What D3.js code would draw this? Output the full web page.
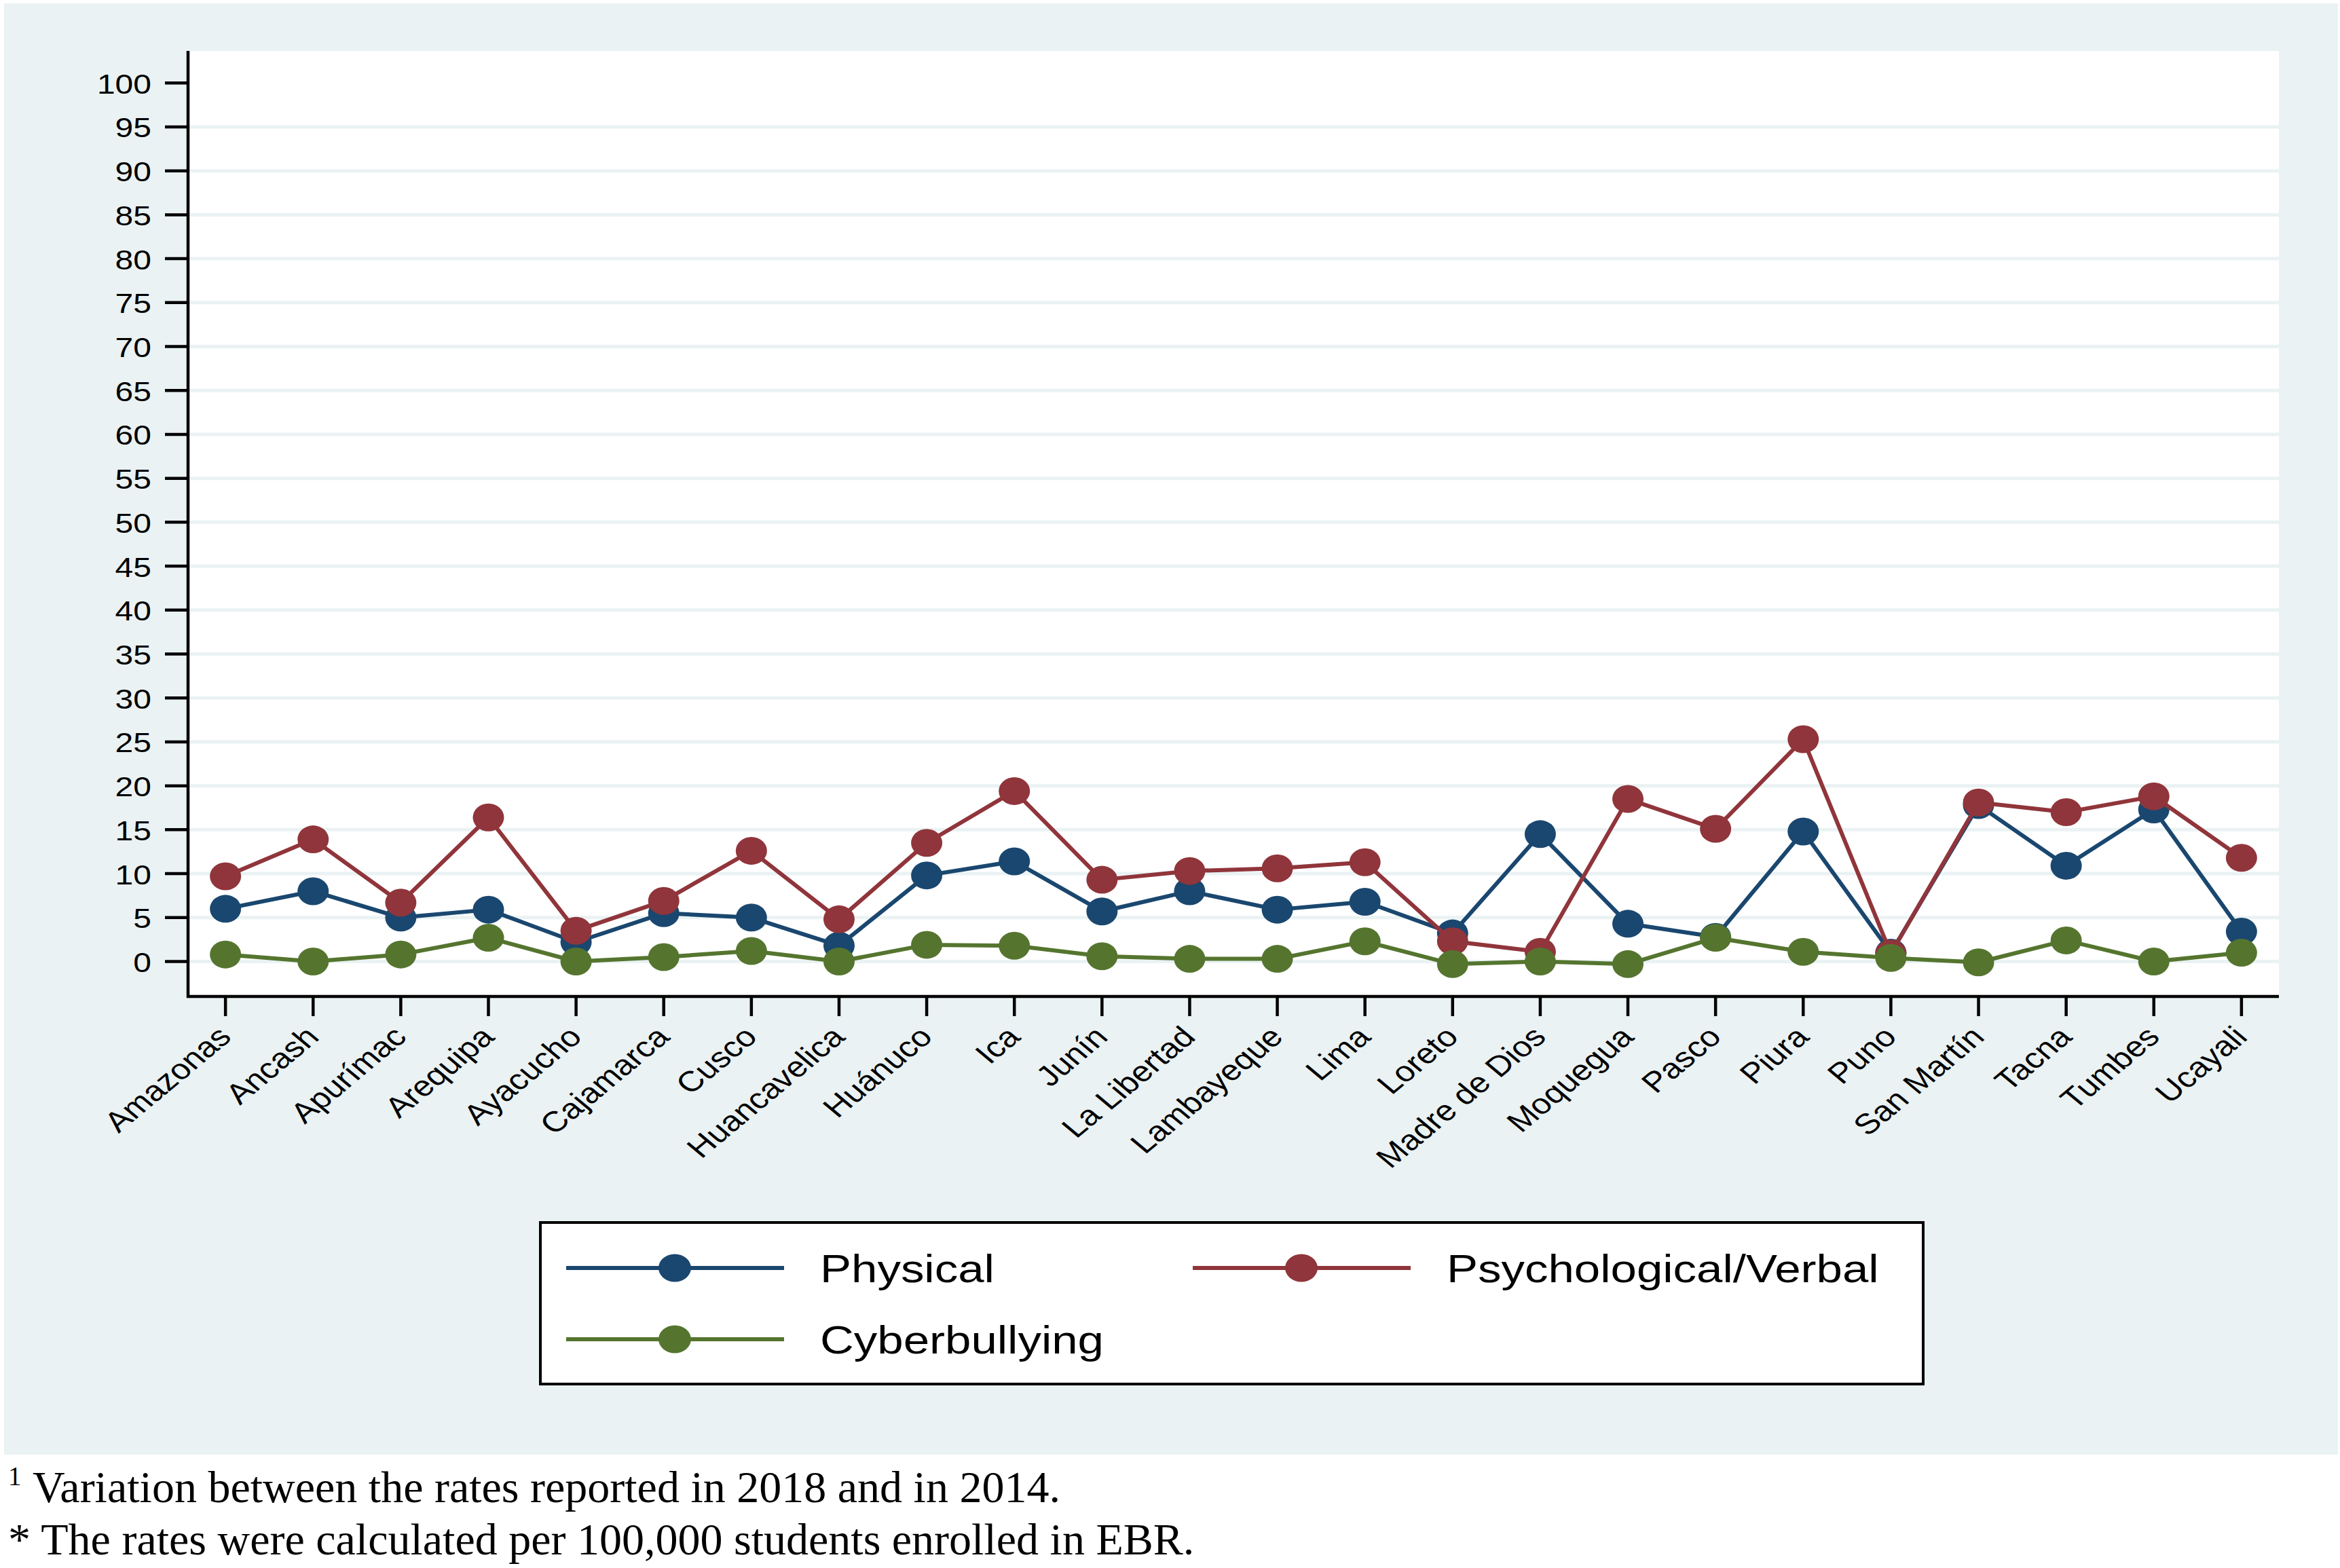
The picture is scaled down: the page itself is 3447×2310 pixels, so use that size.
<!DOCTYPE html>
<html>
<head>
<meta charset="utf-8">
<script src="https://cdn.jsdelivr.net/npm/d3@7"></script>
<style>
  body { margin: 0; background: #fff; }
</style>
</head>
<body>
<svg id="chart"></svg>
<script>
// data (rate variation 2018 vs 2014, per 100,000 students)
const regions = ['Amazonas', 'Ancash', 'Apurímac', 'Arequipa', 'Ayacucho', 'Cajamarca', 'Cusco',
  'Huancavelica', 'Huánuco', 'Ica', 'Junín', 'La Libertad', 'Lambayeque', 'Lima', 'Loreto',
  'Madre de Dios', 'Moquegua', 'Pasco', 'Piura', 'Puno', 'San Martín', 'Tacna', 'Tumbes', 'Ucayali'];
const physical = [6.0, 8.0, 5.0, 5.9, 2.2, 5.5, 5.0, 1.8, 9.8, 11.4, 5.7, 8.0, 5.9, 6.8, 3.2,
  14.5, 4.3, 2.8, 14.8, 1.0, 17.8, 10.9, 17.3, 3.4];
const psychological = [9.7, 13.9, 6.7, 16.4, 3.5, 6.9, 12.6, 4.8, 13.5, 19.4, 9.3, 10.3, 10.6, 11.3, 2.3,
  1.1, 18.5, 15.1, 25.3, 0.9, 18.1, 17.0, 18.8, 11.8];
const cyberbullying = [0.8, 0.0, 0.8, 2.7, 0.0, 0.5, 1.2, 0.0, 1.9, 1.8, 0.6, 0.3, 0.3, 2.3, -0.3,
  0.0, -0.3, 2.7, 1.1, 0.4, -0.1, 2.4, 0.0, 1.0];
const seriesNames = ['Physical', 'Psychological/Verbal', 'Cyberbullying'];
const seriesColors = ['#1A476F', '#90353B', '#55752F'];
const yTicks = d3.range(0, 101, 5);
const footnotes = ['Variation between the rates reported in 2018 and in 2014.',
  '* The rates were calculated per 100,000 students enrolled in EBR.'];

const width = 3447;
const height = 2310;
const stretch = 1.2; // the original figure is widened horizontally
const plot = { left: 277, top: 75, right: 3357, bottom: 1468 };
const bg = '#EAF2F3';
const sans = '"Liberation Sans", Arial, Helvetica, sans-serif';

const series = seriesNames.map((name, i) => ({
  name,
  color: seriesColors[i],
  values: [physical, psychological, cyberbullying][i]
}));

const svg = d3.select('#chart').attr('width', width).attr('height', height);

svg.append('rect').attr('x', 6).attr('y', 5).attr('width', width - 9).attr('height', 2138).attr('fill', bg);
svg.append('rect')
  .attr('x', plot.left).attr('y', plot.top)
  .attr('width', plot.right - plot.left).attr('height', plot.bottom - plot.top)
  .attr('fill', '#fff');

const x = d3.scalePoint().domain(regions).range([plot.left, plot.right]).padding(0.427);
const y = d3.scaleLinear().domain([-3.98, 103.65]).range([plot.bottom, plot.top]);

// grid
svg.append('g')
  .selectAll('line')
  .data(yTicks.filter(d => d < 100))
  .join('line')
  .attr('x1', plot.left).attr('x2', plot.right)
  .attr('y1', d => y(d)).attr('y2', d => y(d))
  .attr('stroke', bg).attr('stroke-width', 5);

// y axis
const yAxis = svg.append('g');
yAxis.selectAll('line')
  .data(yTicks)
  .join('line')
  .attr('x1', plot.left - 34).attr('x2', plot.left)
  .attr('y1', d => y(d)).attr('y2', d => y(d))
  .attr('stroke', '#000').attr('stroke-width', 4.5);
yAxis.selectAll('text')
  .data(yTicks)
  .join('text')
  .attr('transform', d => `translate(${plot.left - 54},${y(d) + 15.5}) scale(${stretch},1)`)
  .attr('text-anchor', 'end')
  .attr('font-family', sans)
  .attr('font-size', 40)
  .text(d => d);

// x axis
const xAxis = svg.append('g');
xAxis.selectAll('line')
  .data(regions)
  .join('line')
  .attr('x1', d => x(d)).attr('x2', d => x(d))
  .attr('y1', plot.bottom).attr('y2', plot.bottom + 29)
  .attr('stroke', '#000').attr('stroke-width', 4.5);
xAxis.selectAll('text')
  .data(regions)
  .join('text')
  .attr('transform', d => `translate(${x(d) + 11},${plot.bottom + 62}) scale(${stretch},1) rotate(-45)`)
  .attr('text-anchor', 'end')
  .attr('font-family', sans)
  .attr('font-size', 42)
  .text(d => d);

svg.append('line')
  .attr('x1', plot.left).attr('x2', plot.left)
  .attr('y1', plot.top).attr('y2', plot.bottom + 2)
  .attr('stroke', '#000').attr('stroke-width', 4.5);
svg.append('line')
  .attr('x1', plot.left - 2).attr('x2', plot.right)
  .attr('y1', plot.bottom).attr('y2', plot.bottom)
  .attr('stroke', '#000').attr('stroke-width', 4.5);

// series
const line = d3.line()
  .x((d, i) => x(regions[i]))
  .y(d => y(d));

for (const s of series) {
  const g = svg.append('g');
  g.append('path')
    .attr('d', line(s.values))
    .attr('fill', 'none')
    .attr('stroke', s.color)
    .attr('stroke-width', 6)
    .attr('stroke-linejoin', 'round');
  g.selectAll('ellipse')
    .data(s.values)
    .join('ellipse')
    .attr('cx', (d, i) => x(regions[i]))
    .attr('cy', d => y(d))
    .attr('rx', 23).attr('ry', 20.5)
    .attr('fill', s.color);
}

// legend
const legend = svg.append('g');
legend.append('rect')
  .attr('x', 796).attr('y', 1801).attr('width', 2037).attr('height', 238)
  .attr('fill', '#fff').attr('stroke', '#000').attr('stroke-width', 4);
const colStart = [834, 1757];
const rowY = [1868, 1973];
const item = legend.selectAll('g')
  .data(series)
  .join('g')
  .attr('transform', (d, i) => `translate(${colStart[i % 2]},${rowY[Math.floor(i / 2)]})`);
item.append('line')
  .attr('x1', 0).attr('x2', 321)
  .attr('stroke', d => d.color).attr('stroke-width', 6);
item.append('ellipse')
  .attr('cx', 160).attr('rx', 24).attr('ry', 20.5)
  .attr('fill', d => d.color);
item.append('text')
  .attr('transform', `translate(374,21) scale(${stretch},1)`)
  .attr('font-family', sans)
  .attr('font-size', 57.5)
  .text(d => d.name);

// footnotes
const serif = '"Liberation Serif", "Times New Roman", Times, serif';
svg.append('text')
  .attr('x', 12).attr('y', 2188)
  .attr('font-family', serif).attr('font-size', 39)
  .text('1');
svg.selectAll('text.note')
  .data(footnotes)
  .join('text')
  .attr('class', 'note')
  .attr('x', (d, i) => i === 0 ? 48 : 12)
  .attr('y', (d, i) => 2213 + i * 77)
  .attr('font-family', serif).attr('font-size', 66)
  .text(d => d);
</script>
</body>
</html>
